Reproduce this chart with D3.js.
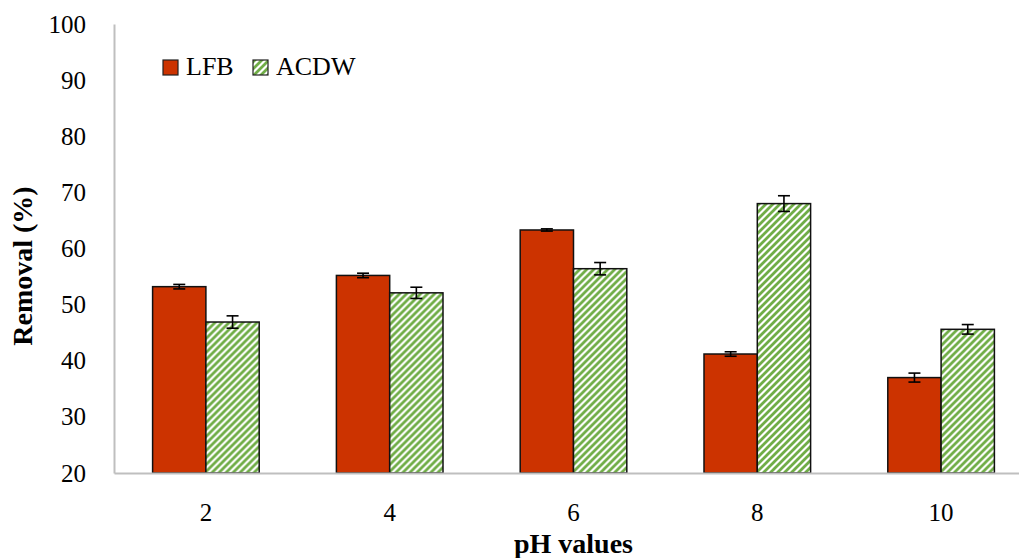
<!DOCTYPE html>
<meta charset="utf-8">
<title>Removal vs pH</title>
<style>
    body { margin: 0; background: #fff; }
    text { font-family: "Liberation Serif", "DejaVu Serif", serif; fill: #000; }
    .axis path, .axis line { stroke: #bfbfbf; stroke-width: 2; }
    .tick text { font-size: 25px; }
</style>
<body>
<div id="chart"></div>
<script src="https://d3js.org/d3.v7.min.js"></script>
<script>
    // data
    var phValues = ["2", "4", "6", "8", "10"];
    var series = ["LFB", "ACDW"];
    var lfb = [53.2, 55.2, 63.3, 41.2, 37.0];
    var lfbErr = [0.4, 0.4, 0.2, 0.4, 0.8];
    var acdw = [46.9, 52.1, 56.4, 68.0, 45.6];
    var acdwErr = [1.1, 1.0, 1.1, 1.4, 0.85];
    var yTicks = [20, 30, 40, 50, 60, 70, 80, 90, 100];

    var width = 1019, height = 558;
    var margin = {top: 24, left: 114, bottom: 85};
    var plotRight = 1033;

    var svg = d3.select("#chart").append("svg")
        .attr("width", width)
        .attr("height", height);

    // green hatch pattern for ACDW
    var defs = svg.append("defs");
    var pat = defs.append("pattern")
        .attr("id", "hatch")
        .attr("patternUnits", "userSpaceOnUse")
        .attr("width", 7)
        .attr("height", 7);
    pat.append("rect").attr("width", 7).attr("height", 7).attr("fill", "#fff");
    pat.append("path")
        .attr("d", "M-1,8 L8,-1 M-2,2 L2,-2 M5,9 L9,5")
        .attr("stroke", "#70ad47")
        .attr("stroke-width", 2.8);

    var x0 = d3.scaleBand().domain(phValues).range([margin.left, plotRight]).paddingInner(0.42).paddingOuter(0.21);
    var x1 = d3.scaleBand().domain(series).range([0, x0.bandwidth()]);
    var y = d3.scaleLinear().domain([20, 100]).range([height - margin.bottom, margin.top]);

    var rows = phValues.map((p, i) => ({
        ph: p,
        bars: [
            {key: "LFB", v: lfb[i], e: lfbErr[i]},
            {key: "ACDW", v: acdw[i], e: acdwErr[i]}
        ]
    }));

    var groups = svg.selectAll(".grp")
        .data(rows)
        .enter().append("g")
        .attr("class", "grp")
        .attr("transform", d => `translate(${x0(d.ph)},0)`);

    groups.selectAll("rect")
        .data(d => d.bars)
        .enter().append("rect")
        .attr("x", d => x1(d.key))
        .attr("y", d => y(d.v))
        .attr("width", x1.bandwidth())
        .attr("height", d => y(20) - y(d.v))
        .attr("fill", d => d.key == "LFB" ? "#cc3300" : "url(#hatch)")
        .attr("stroke", "#111")
        .attr("stroke-width", 1.5);

    // error bars
    var eb = groups.selectAll(".err")
        .data(d => d.bars)
        .enter().append("g")
        .attr("class", "err")
        .attr("stroke", "#000")
        .attr("stroke-width", 1.6);
    var cap = 6;
    var mid = d => x1(d.key) + x1.bandwidth() / 2;
    eb.append("line")
        .attr("x1", mid).attr("x2", mid)
        .attr("y1", d => y(d.v + d.e))
        .attr("y2", d => y(d.v - d.e));
    eb.append("line")
        .attr("x1", d => mid(d) - cap).attr("x2", d => mid(d) + cap)
        .attr("y1", d => y(d.v + d.e))
        .attr("y2", d => y(d.v + d.e));
    eb.append("line")
        .attr("x1", d => mid(d) - cap).attr("x2", d => mid(d) + cap)
        .attr("y1", d => y(d.v - d.e))
        .attr("y2", d => y(d.v - d.e));

    // axes
    svg.append("g")
        .attr("class", "axis")
        .attr("transform", `translate(0,${y(20)})`)
        .call(d3.axisBottom(x0).tickSize(0).tickSizeOuter(0).tickPadding(30));

    svg.append("g")
        .attr("class", "axis")
        .attr("transform", `translate(${margin.left},0)`)
        .call(d3.axisLeft(y).tickValues(yTicks).tickSize(0).tickSizeOuter(0).tickPadding(28));

    svg.selectAll(".axis .domain").attr("stroke", "#bfbfbf").attr("stroke-width", 2);
    svg.selectAll(".tick text").attr("fill", "#000");

    // axis titles
    svg.append("text")
        .attr("x", (margin.left + plotRight) / 2)
        .attr("y", 553)
        .attr("text-anchor", "middle")
        .style("font-size", "28px")
        .style("font-weight", "bold")
        .text("pH values");

    svg.append("text")
        .attr("transform", "translate(32,266) rotate(-90)")
        .attr("text-anchor", "middle")
        .style("font-size", "28px")
        .style("font-weight", "bold")
        .text("Removal (%)");

    // legend
    var legend = [
        {key: "LFB", fill: "#cc3300", x: 163},
        {key: "ACDW", fill: "url(#hatch)", x: 253}
    ];
    var lg = svg.selectAll(".lg").data(legend).enter().append("g").attr("class", "lg");
    lg.append("rect")
        .attr("x", d => d.x)
        .attr("y", 60)
        .attr("width", 15)
        .attr("height", 15)
        .attr("fill", d => d.fill)
        .attr("stroke", "#222")
        .attr("stroke-width", 1.2);
    lg.append("text")
        .attr("x", d => d.x + 23)
        .attr("y", 75)
        .style("font-size", "26px")
        .text(d => d.key);
</script>
</body>
